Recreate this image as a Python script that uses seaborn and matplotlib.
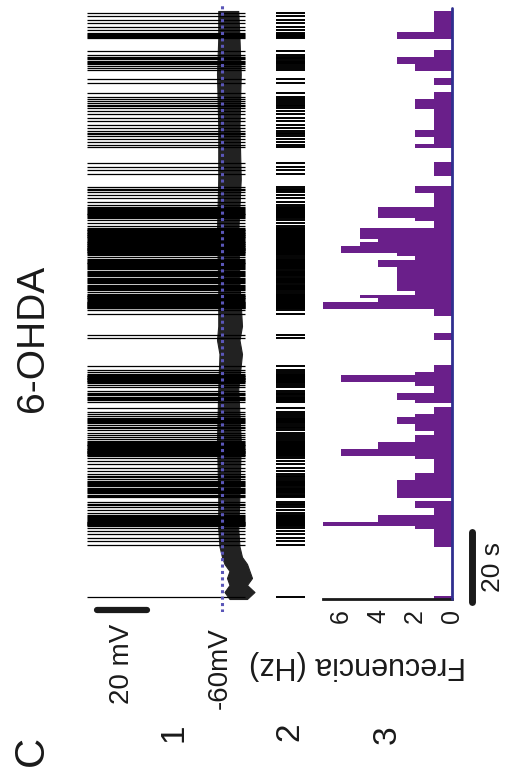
import numpy as np
import matplotlib
matplotlib.use("Agg")
import matplotlib.pyplot as plt
import seaborn as sns

# ---------------- data ----------------
# spikes per 1-s bin (= firing frequency in Hz), from t = 0 s upward
spike_counts = [
    1, 0, 0, 0, 0, 0, 0, 0, 0, 0,
    0, 0, 0, 0, 0, 1, 1, 1, 1, 1,
    2, 7, 4, 4, 1, 1, 2, 2, 0, 3,
    3, 3, 3, 3, 2, 2, 1, 1, 1, 1,
    2, 6, 6, 4, 4, 2, 2, 1, 2, 2,
    3, 3, 2, 1, 1, 0, 2, 3, 3, 1,
    1, 2, 6, 6, 2, 1, 1, 0, 0, 0,
    0, 0, 0, 0, 1, 1, 0, 0, 0, 0,
    0, 1, 1, 7, 7, 4, 5, 2, 3, 3,
    3, 3, 3, 3, 3, 4, 4, 2, 3, 6,
    6, 5, 4, 5, 5, 5, 1, 1, 2, 4,
    4, 4, 1, 1, 1, 1, 2, 2, 0, 0,
    0, 1, 1, 1, 1, 0, 0, 0, 0, 2,
    1, 1, 2, 2, 1, 1, 1, 1, 1, 1,
    2, 2, 2, 1, 1, 0, 0, 1, 1, 0,
    0, 2, 2, 3, 3, 1, 1, 0, 0, 0,
    3, 3, 1, 1, 1, 1, 1, 1,
]
# membrane-potential band (mV) between spikes
env_time = [0, 2, 4, 6, 8, 10, 12, 15, 20, 30, 45, 60, 70, 74, 78, 90, 105, 120, 135, 150, 160, 168]
env_upper = [-63, -61, -63, -62, -63, -61, -60, -59, -58.5, -58.5, -58, -58.5, -59, -58, -58.5, -58.5, -58, -58.5, -58.5, -58, -58.5, -58.5]
env_lower = [-70, -73, -70, -72, -71, -70, -68, -67, -66.5, -67, -67.5, -66.5, -68, -67, -68, -67, -66.5, -67.5, -67, -67.5, -67, -66.5]
spike_peak = -6.0
spike_trough = -69.0
rest_mv = -60
freq_ticks = [0, 2, 4, 6]

# spike times: spread each bin's spikes over that second
spike_times = []
for k, n in enumerate(spike_counts):
    for j in range(n):
        spike_times.append(k + (j + 0.5) / n)
spike_times = np.array(spike_times)
bin_edges = np.arange(0, len(spike_counts) + 1)

# ---------------- figure ----------------
sns.set_style("white")
plt.rcParams["font.family"] = ["Liberation Sans", "DejaVu Sans"]

W, H = 505, 778
fig = plt.figure(figsize=(W / 100, H / 100), dpi=100)


def box(x0, x1, ytop, ybot):
    return [x0 / W, 1 - ybot / H, (x1 - x0) / W, (ybot - ytop) / H]


PX_PER_S = 3.5
T0_PX = 599
tlim_tr = (-(612 - T0_PX) / PX_PER_S, (T0_PX - 5) / PX_PER_S)

ink = "#1a1a1a"
purple = "#6a1f8a"
navy = "#2f2f8f"
dotblue = "#5a56b8"

# trace (voltage increases to the left, time upward)
ax_tr = fig.add_axes(box(85, 262, 5, 612))
ax_tr.fill_betweenx(env_time, env_lower, env_upper, color="#222222", lw=0.8)
ax_tr.hlines(spike_times, spike_trough, spike_peak, color="black", lw=0.9)
ax_tr.axvline(rest_mv, color=dotblue, lw=2.2, linestyle=(0, (1, 1.1)), zorder=5)
ax_tr.plot([-30, -10], [-3.14, -3.14], color=ink, lw=4.5, solid_capstyle="round", clip_on=False)
ax_tr.set_xlim(-60 + 137 / 2.5, -60 - 40 / 2.5)
ax_tr.set_ylim(*tlim_tr)
ax_tr.axis("off")

# raster
ax_r = fig.add_axes(box(276, 305, 5, 612))
ax_r.eventplot(spike_times, orientation="vertical", lineoffsets=0.5,
               linelengths=1, linewidths=1.4, colors="black")
ax_r.set_xlim(0, 1)
ax_r.set_ylim(*tlim_tr)
ax_r.axis("off")

# frequency histogram
ax_h = fig.add_axes(box(322.5, 452, 8, 599))
sns.histplot(y=spike_times, bins=bin_edges, ax=ax_h, color=purple, alpha=1,
             linewidth=0, edgecolor=None)
ax_h.axvline(0, color=navy, lw=2, clip_on=False, zorder=5)
ax_h.set_xlim(7, 0)
ax_h.set_ylim(0, (T0_PX - 8) / PX_PER_S)
for s in ["top", "left", "right"]:
    ax_h.spines[s].set_visible(False)
ax_h.spines["bottom"].set_linewidth(2)
ax_h.spines["bottom"].set_color(ink)
ax_h.set_xticks(freq_ticks)
ax_h.set_xticklabels([str(v) for v in freq_ticks], rotation=90, fontsize=18, color=ink)
ax_h.tick_params(axis="x", direction="out", length=5, width=1.8, color=ink, pad=2)
ax_h.set_yticks([])
ax_h.set_xlabel("")
ax_h.set_ylabel("")
ax_h.plot([-20 / 18.5, -20 / 18.5], [-0.9, 19.1], color=ink, lw=5,
          solid_capstyle="round", clip_on=False)


def t(x, y, s, size, rot):
    fig.text(x / W, 1 - y / H, s, fontsize=size, rotation=rot, ha="center",
             va="center", color=ink, rotation_mode="anchor")


t(33, 338, "6-OHDA", 28, 90)
t(32, 751, "C", 30, 90)
t(174, 733, "1", 24, 90)
t(290, 732, "2", 24, 90)
t(387, 735, "3", 24, 90)
t(122, 664, "20 mV", 20, 90)
t(220, 668, "-60mV", 20, 90)
t(358, 665, "Frecuencia (Hz)", 22, 180)
t(493, 567, "20 s", 19, 90)

fig.savefig("out.png", dpi=100)
